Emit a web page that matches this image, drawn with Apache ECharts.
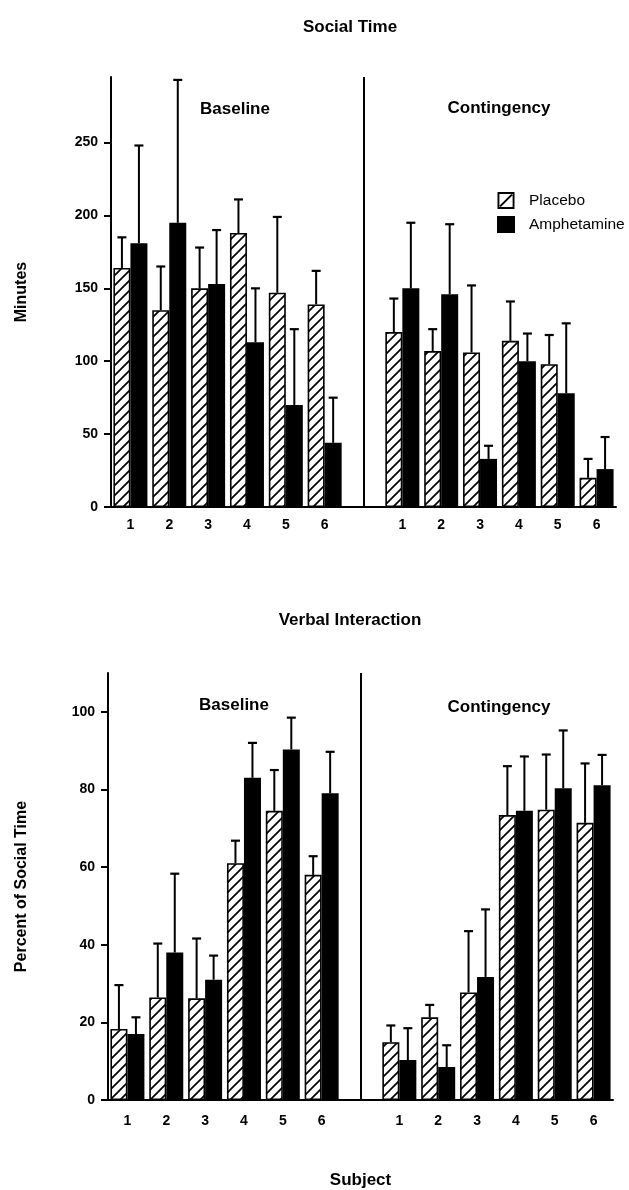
<!DOCTYPE html>
<html><head><meta charset="utf-8">
<script src="https://cdn.jsdelivr.net/npm/echarts@6/dist/echarts.min.js"></script>
<style>html,body{margin:0;padding:0;background:#fff}#c{width:629px;height:1190px}</style>
</head><body><div id="c"></div>
<script>
// ---------- data ----------
const subjects = ['1','2','3','4','5','6'];
const socialTicks = [0,50,100,150,200,250];
const verbalTicks = [0,20,40,60,80,100];

// Social Time (minutes)
const socialBaselinePlacebo      = [164, 135, 150, 188, 147, 139];
const socialBaselinePlaceboErr   = [185, 165, 178, 211, 199, 162];
const socialBaselineAmph         = [181, 195, 153, 113, 70, 44];
const socialBaselineAmphErr      = [248, 293, 190, 150, 122, 75];
const socialContPlacebo          = [120, 107, 106, 114, 98, 20];
const socialContPlaceboErr       = [143, 122, 152, 141, 118, 33];
const socialContAmph             = [150, 146, 33, 100, 78, 26];
const socialContAmphErr          = [195, 194, 42, 119, 126, 48];

// Verbal Interaction (percent of social time)
const verbalBaselinePlacebo      = [18.3, 26.4, 26.2, 61, 74.5, 58];
const verbalBaselinePlaceboErr   = [29.6, 40.3, 41.6, 66.8, 85, 62.8];
const verbalBaselineAmph         = [17, 38, 31, 83, 90.3, 79];
const verbalBaselineAmphErr      = [21.3, 58.3, 37.2, 92, 98.5, 89.7];
const verbalContPlacebo          = [14.9, 21.3, 27.7, 73.4, 74.8, 71.4];
const verbalContPlaceboErr       = [19.2, 24.5, 43.5, 86, 89, 86.7];
const verbalContAmph             = [10.3, 8.5, 31.7, 74.5, 80.3, 81.1];
const verbalContAmphErr          = [18.5, 14.1, 49.1, 88.5, 95.2, 88.9];

// ---------- helpers ----------
const FONT = '"Liberation Sans", Arial, sans-serif';
const BAR_W = 17, CAP = 4.5;
const cats = [...subjects.map(s => 'B' + s), 'gap', ...subjects.map(s => 'C' + s)];

function joinVals(b, c) { return [...b, '-', ...c]; }
function errData(b, bErr, c, cErr) {
  const out = [];
  b.forEach((v, i) => out.push([i, v, bErr[i]]));
  c.forEach((v, i) => out.push([i + b.length + 1, v, cErr[i]]));
  return out;
}
function hatchCanvas() {
  const c = document.createElement('canvas');
  c.width = c.height = 10;
  const g = c.getContext('2d');
  g.fillStyle = '#fff'; g.fillRect(0, 0, 10, 10);
  g.strokeStyle = '#000'; g.lineWidth = 1.7;
  g.beginPath();
  g.moveTo(-1, 11); g.lineTo(11, -1);
  g.moveTo(-1, 1); g.lineTo(1, -1);
  g.moveTo(9, 11); g.lineTo(11, 9);
  g.stroke();
  return c;
}
const hatch = { image: hatchCanvas(), repeat: 'repeat' };

function errRender(side) {
  return function (params, api) {
    const x = api.value(0);
    const p0 = api.coord([x, api.value(1)]);
    const p1 = api.coord([x, api.value(2)]);
    const cx = p0[0] + side * BAR_W / 2;
    return { type: 'group', children: [
      { type: 'line', shape: { x1: cx, y1: p0[1], x2: cx, y2: p1[1] }, style: { stroke: '#000', lineWidth: 2 } },
      { type: 'line', shape: { x1: cx - CAP, y1: p1[1], x2: cx + CAP, y2: p1[1] }, style: { stroke: '#000', lineWidth: 2.2 } }
    ]};
  };
}

function xAxis(gi, name) {
  return {
    type: 'category', gridIndex: gi, data: cats, boundaryGap: true,
    axisLine: { show: true, lineStyle: { color: '#000', width: 2 } },
    axisTick: { show: false },
    axisLabel: { interval: 0, color: '#000', fontFamily: FONT, fontWeight: 'bold', fontSize: 14, margin: gi === 0 ? 11 : 14,
      formatter: v => v === 'gap' ? '' : v.slice(1) },
    splitLine: { show: false },
    name: name || '', nameLocation: 'middle', nameGap: 72,
    nameTextStyle: { color: '#000', fontFamily: FONT, fontWeight: 'bold', fontSize: 17 }
  };
}
function yAxis(gi, max, ticks, name, gap) {
  return {
    type: 'value', gridIndex: gi, min: 0, max: max,
    axisLine: { show: true, lineStyle: { color: '#000', width: 2 } },
    axisTick: { show: true, length: 7, customValues: ticks, lineStyle: { color: '#000', width: 2 } },
    axisLabel: { customValues: ticks, color: '#000', fontFamily: FONT, fontWeight: 'bold', fontSize: 14, margin: 13 },
    splitLine: { show: false },
    name: name, nameLocation: 'middle', nameGap: gap, nameRotate: 90,
    nameTextStyle: { color: '#000', fontFamily: FONT, fontWeight: 'bold', fontSize: 16 }
  };
}
const divider = {
  symbol: ['none', 'none'], silent: true, label: { show: false },
  lineStyle: { color: '#000', width: 2, type: 'solid' },
  data: [{ xAxis: 6 }]
};
function barSeries(gi, name, data, isPlacebo) {
  return {
    type: 'bar', name: name, xAxisIndex: gi, yAxisIndex: gi, data: data,
    barWidth: BAR_W, barGap: '0%',
    itemStyle: isPlacebo ? { color: hatch, borderColor: '#000', borderWidth: 1.6 } : { color: '#000' }
  };
}
function errSeries(gi, name, data, side, withDivider) {
  const s = { type: 'custom', name: name, xAxisIndex: gi, yAxisIndex: gi, data: data,
    encode: { x: 0, y: [1, 2] }, renderItem: errRender(side), z: 5 };
  if (withDivider) s.markLine = divider;
  return s;
}

const PLACEBO_ICON = 'path://M0,0H18V2H0Z M0,16H18V18H0Z M0,0H2V18H0Z M16,0H18V18H16Z M2,14.5L14.5,2L16,3.5L3.5,16Z';

function txt(text, x, y, size) {
  return { type: 'text', x: x, y: y, silent: true,
    style: { text: text, font: 'bold ' + size + 'px ' + FONT, fill: '#000',
      align: 'center', verticalAlign: 'middle', textAlign: 'center', textVerticalAlign: 'middle' } };
}

const option = {
  animation: false,
  backgroundColor: '#fff',
  grid: [
    { left: 111, right: 13, top: 77, bottom: 683 },
    { left: 108, right: 16, top: 673, bottom: 88 }
  ],
  xAxis: [xAxis(0), xAxis(1, 'Subject')],
  yAxis: [yAxis(0, 295, socialTicks, 'Minutes', 81), yAxis(1, 110, verbalTicks, 'Percent of Social Time', 78)],
  legend: {
    orient: 'vertical', left: 492, top: 187, itemWidth: 18, itemHeight: 17, itemGap: 7,
    selectedMode: false,
    data: [
      { name: 'Placebo', icon: PLACEBO_ICON, itemStyle: { color: '#000', borderWidth: 0 } },
      { name: 'Amphetamine', icon: 'rect', itemStyle: { color: '#000' } }
    ],
    textStyle: { color: '#000', fontFamily: FONT, fontSize: 15.5, padding: [0, 0, 0, 9] }
  },
  graphic: [
    txt('Social Time', 350, 27, 17),
    txt('Verbal Interaction', 350, 620, 17),
    txt('Baseline', 235, 109, 17),
    txt('Contingency', 499, 108, 17),
    txt('Baseline', 234, 705, 17),
    txt('Contingency', 499, 707, 17)
  ],
  series: [
    barSeries(0, 'Placebo', joinVals(socialBaselinePlacebo, socialContPlacebo), true),
    barSeries(0, 'Amphetamine', joinVals(socialBaselineAmph, socialContAmph), false),
    errSeries(0, 'Placebo SD', errData(socialBaselinePlacebo, socialBaselinePlaceboErr, socialContPlacebo, socialContPlaceboErr), -1, true),
    errSeries(0, 'Amphetamine SD', errData(socialBaselineAmph, socialBaselineAmphErr, socialContAmph, socialContAmphErr), 1, false),
    barSeries(1, 'Placebo', joinVals(verbalBaselinePlacebo, verbalContPlacebo), true),
    barSeries(1, 'Amphetamine', joinVals(verbalBaselineAmph, verbalContAmph), false),
    errSeries(1, 'Placebo SD', errData(verbalBaselinePlacebo, verbalBaselinePlaceboErr, verbalContPlacebo, verbalContPlaceboErr), -1, true),
    errSeries(1, 'Amphetamine SD', errData(verbalBaselineAmph, verbalBaselineAmphErr, verbalContAmph, verbalContAmphErr), 1, false)
  ]
};
const chart = echarts.init(document.getElementById('c'), null, { renderer: 'canvas' });
chart.setOption(option);
</script>
</body></html>
